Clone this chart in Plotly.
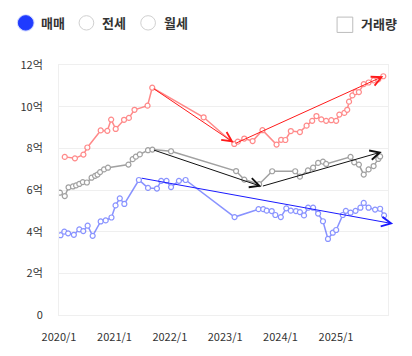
import plotly.graph_objects as go

# ---------------- data ----------------
sale_dates = ["2020-02-08", "2020-04-15", "2020-06-10", "2020-07-06", "2020-10-02", "2020-11-15",
              "2020-12-10", "2021-01-09", "2021-03-05", "2021-04-06", "2021-05-13", "2021-08-07",
              "2021-09-07", "2022-08-12", "2023-03-02", "2023-03-25", "2023-05-07", "2023-07-01",
              "2023-09-04", "2023-12-06", "2024-01-05", "2024-02-02", "2024-03-09", "2024-05-08",
              "2024-06-21", "2024-07-28", "2024-08-25", "2024-09-26", "2024-10-28", "2024-12-01",
              "2025-01-02", "2025-01-23", "2025-02-25", "2025-03-16", "2025-03-28", "2025-04-19",
              "2025-05-10", "2025-06-01", "2025-07-03", "2025-08-04", "2025-09-06", "2025-10-07",
              "2025-11-09"]
sale_vals = [7.59, 7.52, 7.70, 8.04, 8.86, 8.84, 9.38, 8.93, 9.37, 9.46, 9.85, 10.05, 10.91,
             9.49, 8.21, 8.32, 8.47, 8.35, 8.87, 8.18, 8.41, 8.40, 8.83, 8.78, 9.09, 9.32, 9.55,
             9.39, 9.32, 9.35, 9.32, 9.62, 9.70, 9.85, 10.24, 10.54, 10.70, 10.70, 11.08, 11.16,
             11.26, 11.31, 11.46]

jeonse_dates = ["2020-01-07", "2020-02-08", "2020-03-04", "2020-04-02", "2020-04-23", "2020-05-14",
                "2020-06-06", "2020-07-03", "2020-08-03", "2020-08-26", "2020-09-11", "2020-09-28",
                "2020-10-24", "2020-11-19", "2021-04-03", "2021-05-01", "2021-05-22", "2021-06-17",
                "2021-08-10", "2021-09-08", "2022-01-09", "2023-03-14", "2023-05-07", "2023-08-13",
                "2023-11-07", "2024-04-07", "2024-05-08", "2024-06-30", "2024-08-03", "2024-09-05",
                "2024-10-07", "2024-10-28", "2025-04-07", "2025-05-01", "2025-06-01", "2025-07-03",
                "2025-08-04", "2025-09-06", "2025-10-07", "2025-10-19"]
jeonse_vals = [5.87, 5.71, 6.13, 6.17, 6.22, 6.29, 6.38, 6.36, 6.59, 6.68, 6.74, 6.86, 6.99,
               7.07, 7.22, 7.48, 7.60, 7.71, 7.91, 7.94, 7.86, 6.91, 6.50, 6.28, 6.90, 6.90,
               6.64, 6.94, 7.07, 7.30, 7.36, 7.25, 7.59, 7.33, 7.22, 6.74, 6.99, 7.15, 7.49, 7.61]

wolse_dates = ["2020-01-11", "2020-02-05", "2020-03-01", "2020-04-08", "2020-05-14", "2020-06-09",
               "2020-07-08", "2020-08-10", "2020-10-02", "2020-11-04", "2020-12-12", "2021-01-08",
               "2021-02-05", "2021-03-07", "2021-06-11", "2021-08-10", "2021-10-08", "2021-11-05",
               "2021-12-10", "2022-01-09", "2022-03-02", "2022-04-15", "2023-03-04", "2023-08-09",
               "2023-09-09", "2023-10-02", "2023-11-04", "2023-11-28", "2024-01-03", "2024-02-08",
               "2024-03-09", "2024-04-12", "2024-05-08", "2024-06-04", "2024-07-01", "2024-08-03",
               "2024-09-05", "2024-10-07", "2024-11-09", "2024-12-11", "2025-01-02", "2025-02-15",
               "2025-03-07", "2025-04-07", "2025-05-10", "2025-06-11", "2025-07-03", "2025-08-04",
               "2025-09-16", "2025-10-19", "2025-11-14"]
wolse_vals = [3.83, 4.00, 3.92, 3.85, 4.11, 4.03, 4.29, 3.80, 4.49, 4.54, 4.68, 5.26, 5.60,
              5.33, 6.48, 6.10, 6.07, 6.44, 6.44, 6.14, 6.44, 6.48, 4.70, 5.08, 5.08, 5.01,
              4.99, 4.80, 4.70, 5.12, 5.01, 4.99, 4.94, 4.78, 5.15, 5.15, 4.87, 4.50, 3.65,
              3.95, 4.08, 4.80, 5.00, 4.91, 5.00, 5.15, 5.38, 5.15, 5.06, 5.10, 4.78]

# trend arrows: (start date, start value, end date, end value)
sale_trend = [("2021-09-07", 10.91, "2023-02-26", 8.28),
              ("2023-03-02", 8.21, "2025-11-09", 11.46)]
jeonse_trend = [("2021-09-08", 7.94, "2023-08-28", 6.17),
                ("2023-08-28", 6.17, "2025-10-30", 7.83)]
wolse_trend = [("2021-06-20", 6.58, "2026-01-13", 4.38)]

y_ticks = [0, 2, 4, 6, 8, 10, 12]
y_labels = ["0", "2억", "4억", "6억", "8억", "10억", "12억"]
x_ticks = ["2020-01-01", "2021-01-01", "2022-01-01", "2023-01-01", "2024-01-01", "2025-01-01"]
x_labels = ["2020/1", "2021/1", "2022/1", "2023/1", "2024/1", "2025/1"]

# ---------------- figure ----------------
OFF = 8                      # default page body margin
PAGE_W, PAGE_H = 412, 356
W, H = PAGE_W - OFF, PAGE_H - OFF
# plot area in page pixels: x 52..388, y 65..326
L, R, T, B = 52 - OFF, PAGE_W - 388, 65 - OFF, PAGE_H - 326
PW, PH = W - L - R, H - T - B
FONT = "Noto Sans CJK KR"


def pxx(x):  # page pixel -> paper x
    return (x - OFF - L) / PW


def pxy(y):  # page pixel -> paper y
    return (OFF + T + PH - y) / PH


fig = go.Figure()

series = [
    (sale_dates, sale_vals, "#ff2a2a", "매매"),
    (jeonse_dates, jeonse_vals, "#555555", "전세"),
    (wolse_dates, wolse_vals, "#2a3cff", "월세"),
]
for d, v, c, name in series:
    fig.add_trace(go.Scatter(
        x=d, y=v, mode="lines+markers", name=name, opacity=0.55,
        line=dict(color=c, width=1.5),
        marker=dict(symbol="circle", size=5, color="white", line=dict(color=c, width=1.2)),
        showlegend=False, hoverinfo="skip"))

annotations = []
for trend, c in [(sale_trend, "#ff1a1a"), (jeonse_trend, "#111111"), (wolse_trend, "#1a1aff")]:
    for x0, y0, x1, y1 in trend:
        annotations.append(dict(
            x=x1, y=y1, ax=x0, ay=y0, xref="x", yref="y", axref="x", ayref="y",
            text="", showarrow=True, arrowhead=5, arrowsize=1.9, arrowwidth=1,
            arrowcolor=c, standoff=0, startstandoff=0))

# header controls (radio buttons + checkbox)
shapes = []
CY = 21
radios = [(18, "매매", True, 32), (80, "전세", False, 94), (143, "월세", False, 157)]
for cx, label, sel, tx in radios:
    r = 7.5
    if sel:
        shapes.append(dict(type="circle", xref="paper", yref="paper",
                           x0=pxx(cx - r - 1.5), x1=pxx(cx + r + 1.5),
                           y0=pxy(CY + r + 1.5), y1=pxy(CY - r - 1.5),
                           fillcolor="rgba(60,90,255,0.25)", line=dict(width=0)))
        shapes.append(dict(type="circle", xref="paper", yref="paper",
                           x0=pxx(cx - r), x1=pxx(cx + r), y0=pxy(CY + r), y1=pxy(CY - r),
                           fillcolor="#1f3bff", line=dict(color="#1f3bff", width=1)))
    else:
        shapes.append(dict(type="circle", xref="paper", yref="paper",
                           x0=pxx(cx - r), x1=pxx(cx + r), y0=pxy(CY + r), y1=pxy(CY - r),
                           fillcolor="white", line=dict(color="#d0d0d0", width=1)))
    annotations.append(dict(x=pxx(tx), y=pxy(CY), xref="paper", yref="paper", text="<b>" + label + "</b>",
                            showarrow=False, xanchor="left", yanchor="middle",
                            font=dict(family=FONT, size=13, color="#333333")))

shapes.append(dict(type="rect", xref="paper", yref="paper",
                   x0=pxx(336), x1=pxx(352), y0=pxy(31), y1=pxy(15),
                   fillcolor="white", line=dict(color="#bdbdbd", width=1)))
annotations.append(dict(x=pxx(358), y=pxy(22), xref="paper", yref="paper", text="<b>거래량</b>",
                        showarrow=False, xanchor="left", yanchor="middle",
                        font=dict(family=FONT, size=13, color="#333333")))

fig.update_layout(
    width=W, height=H, margin=dict(l=L, r=R, t=T, b=B, pad=0),
    paper_bgcolor="white", plot_bgcolor="white",
    font=dict(family=FONT, size=11, color="#333333"),
    xaxis=dict(type="date", range=["2020-01-01", "2025-12-10"], tickvals=x_ticks, ticktext=x_labels,
               showgrid=False, zeroline=False, showline=True, mirror=True, linecolor="#efefef",
               linewidth=1, ticks="", ticklabelstandoff=12,
               tickfont=dict(family=FONT, size=11, color="#333333"), fixedrange=True),
    yaxis=dict(range=[0, 12], tickvals=y_ticks, ticktext=y_labels, showgrid=True,
               gridcolor="#efefef", gridwidth=1, zeroline=False, showline=True, mirror=True,
               linecolor="#efefef", linewidth=1, ticks="", ticklabelstandoff=13,
               tickfont=dict(family=FONT, size=11, color="#333333"), fixedrange=True),
    shapes=shapes, annotations=annotations, showlegend=False,
)

fig.write_html("out.html", config=dict(displayModeBar=False))
